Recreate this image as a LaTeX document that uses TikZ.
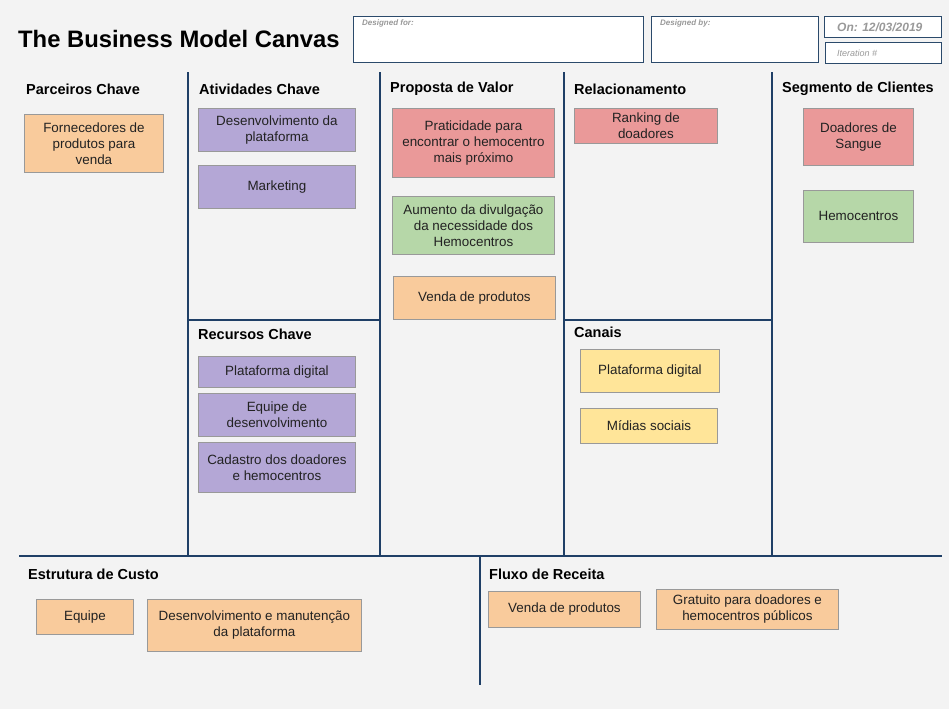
\documentclass[tikz,border=0pt]{standalone}
\usepackage{fontspec}
\setmainfont{Liberation Sans}
\usetikzlibrary{positioning}
\definecolor{bgc}{HTML}{F3F3F3}
\definecolor{linec}{HTML}{1F3F66}
\definecolor{boxc}{HTML}{2B4A6B}
\definecolor{orangec}{HTML}{F9CB9C}
\definecolor{purplec}{HTML}{B4A7D6}
\definecolor{redc}{HTML}{EA9999}
\definecolor{greenc}{HTML}{B6D7A8}
\definecolor{yellowc}{HTML}{FFE599}
\definecolor{notebd}{HTML}{999999}
\definecolor{greytxt}{HTML}{999999}
\definecolor{txtc}{HTML}{222222}
\tikzset{
  x=1pt, y=-1pt,
  gridline/.style={draw=linec, line width=1.6pt},
  hdrbox/.style={draw=boxc, line width=1.1pt, fill=white, anchor=north west, inner sep=0pt},
  hdrlabel/.style={anchor=north west, inner sep=0pt, text=greytxt, font=\fontsize{8}{9}\selectfont\itshape\bfseries},
  sectitle/.style={anchor=west, inner sep=0pt, font=\fontsize{14.5}{17}\selectfont\bfseries, text=black},
  note/.style={draw=notebd, line width=0.9pt, anchor=north west, inner sep=0pt, align=center,
    font=\fontsize{13.4}{16}\selectfont, text=txtc},
}
\newcommand\mynote[7]{% name, x1, y1, x2, y2, color, text
  \node[note, fill=#6, minimum width={#4-#2}, minimum height={#5-#3}] (#1) at (#2,#3) {#7};}
\begin{document}
\begin{tikzpicture}
\fill[bgc] (0,0) rectangle (949,709);
\useasboundingbox (0,0) rectangle (949,709);

% title
\node[anchor=west, inner sep=0pt, font=\fontsize{23.8}{26}\selectfont\bfseries] (title) at (18,39) {The Business Model Canvas};

% header boxes
\node[hdrbox, minimum width=290pt, minimum height=46pt] (dfor) at (353,16) {};
\node[hdrlabel] (dforl) at (362,20) {Designed for:};
\node[hdrbox, minimum width=167pt, minimum height=46pt] (dby) at (651,16) {};
\node[hdrlabel] (dbyl) at (660,20) {Designed by:};
\node[hdrbox, minimum width=117pt, minimum height=21pt] (don) at (824,16) {};
\node[anchor=west, inner sep=0pt, text=greytxt, font=\fontsize{12}{14}\selectfont\itshape\bfseries] (donl) at (837,27) {On: 12/03/2019};
\node[hdrbox, minimum width=116pt, minimum height=21pt] (iter) at (825,42) {};
\node[anchor=west, inner sep=0pt, text=greytxt, font=\fontsize{9}{10}\selectfont\itshape] (iterl) at (837,53) {Iteration \#};

% grid coordinates
\coordinate (v1t) at (188,72); \coordinate (v1b) at (188,556);
\coordinate (v2t) at (380,72); \coordinate (v2b) at (380,556);
\coordinate (v3t) at (564,72); \coordinate (v3b) at (564,556);
\coordinate (v4t) at (772,72); \coordinate (v4b) at (772,556);
\coordinate (h1l) at (188,320); \coordinate (h1r) at (380,320);
\coordinate (h2l) at (564,320); \coordinate (h2r) at (772,320);
\coordinate (hbl) at (19,556); \coordinate (hbr) at (942,556);
\coordinate (vbt) at (480,556); \coordinate (vbb) at (480,685);

\draw[gridline] (v1t) -- (v1b);
\draw[gridline] (v2t) -- (v2b);
\draw[gridline] (v3t) -- (v3b);
\draw[gridline] (v4t) -- (v4b);
\draw[gridline] (h1l) -- (h1r);
\draw[gridline] (h2l) -- (h2r);
\draw[gridline] (hbl) -- (hbr);
\draw[gridline] (vbt) -- (vbb);

% section titles
\node[sectitle] (t1) at (26,89) {Parceiros Chave};
\node[sectitle] (t2) at (199,89) {Atividades Chave};
\node[sectitle] (t3) at (390,89) {Proposta de Valor};
\node[sectitle] (t4) at (574,89) {Relacionamento};
\node[sectitle] (t5) at (782,89) {Segmento de Clientes};
\node[sectitle] (t6) at (198,334) {Recursos Chave};
\node[sectitle] (t7) at (574,332) {Canais};
\node[sectitle] (t8) at (28,574) {Estrutura de Custo};
\node[sectitle] (t9) at (489,574) {Fluxo de Receita};

% notes
\mynote{n1}{24}{114}{163}{172}{orangec}{Fornecedores de\\produtos para\\venda}
\mynote{n2}{198}{108}{355}{151}{purplec}{Desenvolvimento da\\plataforma}
\mynote{n3}{198}{165}{355}{208}{purplec}{Marketing}
\mynote{n4}{392}{108}{554}{177}{redc}{Praticidade para\\encontrar o hemocentro\\mais próximo}
\mynote{n5}{392}{196}{554}{254}{greenc}{Aumento da divulgação\\da necessidade dos\\Hemocentros}
\mynote{n6}{393}{276}{555}{319}{orangec}{Venda de produtos}
\mynote{n7}{574}{108}{717}{143}{redc}{Ranking de\\doadores}
\mynote{n8}{803}{108}{913}{165}{redc}{Doadores de\\Sangue}
\mynote{n9}{803}{190}{913}{242}{greenc}{Hemocentros}
\mynote{n10}{198}{356}{355}{387}{purplec}{Plataforma digital}
\mynote{n11}{198}{393}{355}{436}{purplec}{Equipe de\\desenvolvimento}
\mynote{n12}{198}{442}{355}{492}{purplec}{Cadastro dos doadores\\e hemocentros}
\mynote{n13}{580}{349}{719}{392}{yellowc}{Plataforma digital}
\mynote{n14}{580}{408}{717}{443}{yellowc}{Mídias sociais}
\mynote{n15}{36}{599}{133}{634}{orangec}{Equipe}
\mynote{n16}{147}{599}{361}{651}{orangec}{Desenvolvimento e manutenção\\da plataforma}
\mynote{n17}{488}{591}{640}{627}{orangec}{Venda de produtos}
\mynote{n18}{656}{589}{838}{629}{orangec}{Gratuito para doadores e\\hemocentros públicos}
\end{tikzpicture}
\end{document}
